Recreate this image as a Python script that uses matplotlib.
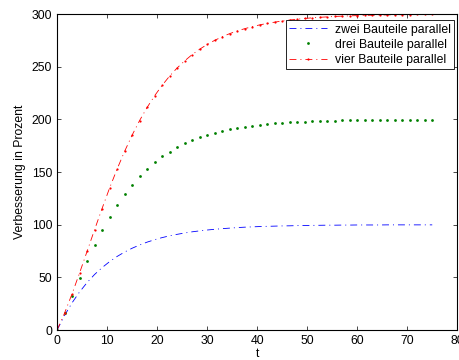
import numpy as np
import matplotlib
matplotlib.use('Agg')
import matplotlib.pyplot as plt

# sample times
t = [0, 1.5, 3, 4.5, 6, 7.5, 9, 10.5, 12, 13.5, 15, 16.5, 18, 19.5, 21,
     22.5, 24, 25.5, 27, 28.5, 30, 31.5, 33, 34.5, 36, 37.5, 39, 40.5, 42,
     43.5, 45, 46.5, 48, 49.5, 51, 52.5, 54, 55.5, 57, 58.5, 60, 61.5, 63,
     64.5, 66, 67.5, 69, 70.5, 72, 73.5, 75]

zwei = [0, 13.9, 25.9, 36.2, 45.1, 52.8, 59.3, 65.0, 69.9, 74.1, 77.7,
        80.8, 83.5, 85.8, 87.8, 89.5, 90.9, 92.2, 93.3, 94.2, 95.0, 95.7,
        96.3, 96.8, 97.3, 97.7, 98.0, 98.3, 98.5, 98.7, 98.9, 99.0, 99.2,
        99.3, 99.4, 99.5, 99.6, 99.6, 99.7, 99.7, 99.8, 99.8, 99.8, 99.8,
        99.9, 99.9, 99.9, 99.9, 99.9, 99.9, 99.9]

drei = [0, 15.9, 32.6, 49.4, 65.5, 80.6, 94.6, 107.3, 118.7, 129.0, 138.1,
        146.1, 153.1, 159.3, 164.8, 169.5, 173.6, 177.2, 180.3, 183.0, 185.3,
        187.3, 189.1, 190.6, 191.9, 193.0, 194.0, 194.8, 195.5, 196.2, 196.7,
        197.1, 197.6, 197.9, 198.2, 198.4, 198.7, 198.8, 199.0, 199.1, 199.3,
        199.4, 199.5, 199.5, 199.6, 199.6, 199.7, 199.7, 199.8, 199.8, 199.8]

vier = [0, 16.1, 34.4, 54.2, 74.7, 95.3, 115.4, 134.8, 152.8, 169.6, 185.0,
        198.9, 211.3, 222.4, 232.3, 241.1, 248.8, 255.5, 261.5, 266.6, 271.1,
        275.0, 278.4, 281.4, 283.9, 286.1, 288.0, 289.7, 291.1, 292.3, 293.4,
        294.3, 295.1, 295.8, 296.4, 296.9, 297.3, 297.7, 298.0, 298.3, 298.5,
        298.7, 298.9, 299.0, 299.2, 299.3, 299.4, 299.5, 299.6, 299.6, 299.7]

labels = ['zwei Bauteile parallel', 'drei Bauteile parallel',
          'vier Bauteile parallel']

plt.rcParams['font.family'] = ['Liberation Sans', 'DejaVu Sans']
plt.rcParams['font.size'] = 8.8

fig = plt.figure(figsize=(4.6, 3.6), dpi=100)
ax = fig.add_axes([0.124, 0.083, 0.87, 0.878])

dashdot = (0, (8.3, 4.8, 1.2, 4.8))
ax.plot(t, zwei, color='b', linestyle=dashdot, linewidth=0.6,
        label=labels[0])
ax.plot(t, drei, color=(0, 0.5, 0), linestyle='none', marker='o',
        markersize=2.0, markeredgewidth=0, label=labels[1])
ax.plot(t, vier, color='r', linestyle=dashdot, linewidth=0.6, marker='o',
        markersize=1.6, markeredgewidth=0, label=labels[2])

ax.set_xlim(0, 80)
ax.set_ylim(0, 300)
ax.set_xticks(np.arange(0, 81, 10))
ax.set_yticks(np.arange(0, 301, 50))
ax.tick_params(direction='in', top=True, right=True, length=3, width=0.5)
for sp in ax.spines.values():
    sp.set_linewidth(0.8)

ax.set_xlabel('t', labelpad=1)
ax.set_ylabel('Verbesserung in Prozent', labelpad=4)

leg = ax.legend(loc='upper right', bbox_to_anchor=(0.9925, 0.981),
                borderaxespad=0, fancybox=False, framealpha=1,
                edgecolor='black', handlelength=3.1, labelspacing=0.25,
                borderpad=0.3, handletextpad=0.6)
leg.get_frame().set_linewidth(0.6)

plt.savefig('out.png', dpi=100)
